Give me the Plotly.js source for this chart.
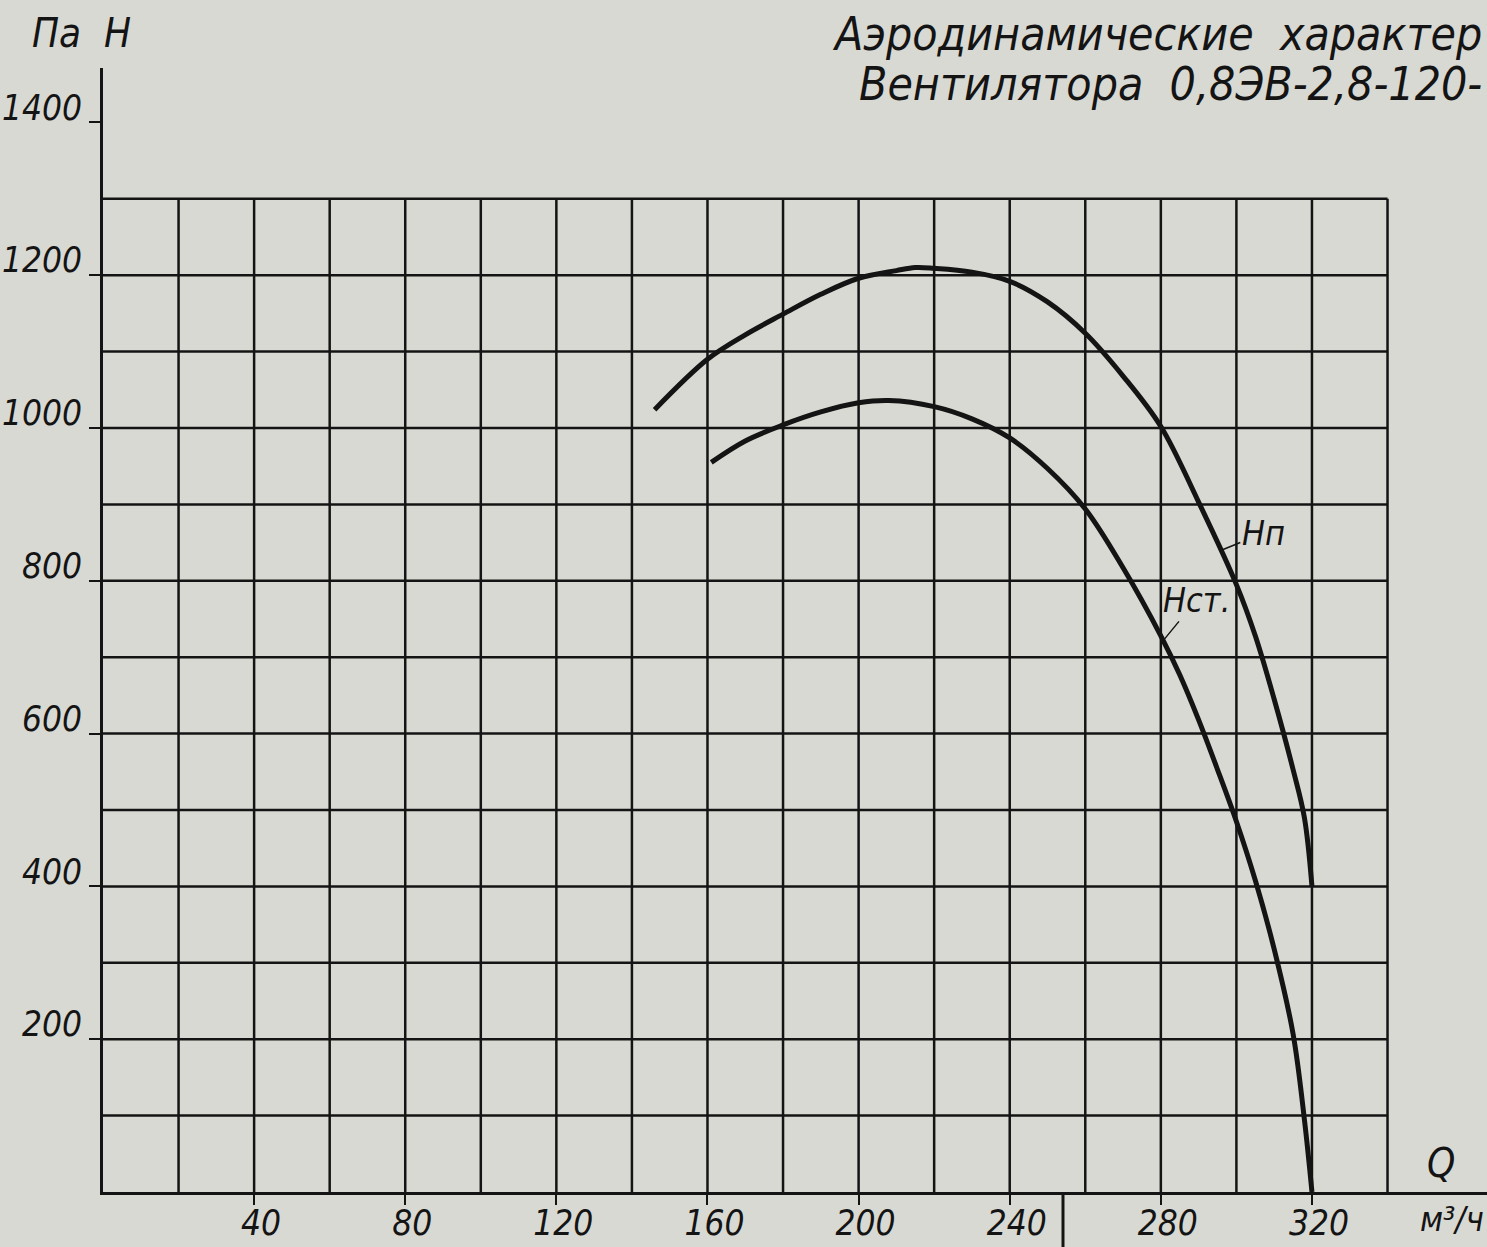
<!DOCTYPE html>
<html><head><meta charset="utf-8">
<script src="https://cdn.plot.ly/plotly-3.0.1.min.js"></script>
<style>html,body{margin:0;padding:0;background:#d9d9d3;} #chart{width:1487px;height:1247px;}</style>
</head><body><div id="chart"></div>
<script>
// Full pressure Hп (Па) vs flow Q (м³/ч)
const qFull = [146,160,170,180,190,200,210,215,220,230,240,250,260,270,280,290,300,305,310,315,318,320];
const hFull = [1024,1090,1122,1149,1175,1196,1206,1210,1209,1204,1192,1165,1124,1068,1002,903,795,728,645,553,490,400];
// Static pressure Hст
const qStatic = [161,170,180,190,200,208,220,230,240,250,260,270,280,285,290,295,300,305,310,315,318,320];
const hStatic = [955,983,1004,1021,1033,1036,1028,1012,987,947,894,817,728,677,618,553,485,408,318,207,95,0];
// Axis ticks
const xTickVals = [40,80,120,160,200,240,280,320];
const xTickText = ['40','80','120','160','200','240','280','320'];
const yTickVals = [200,400,600,800,1000,1200,1400];
const yTickText = ['200','400','600','800','1000','1200','1400'];
// Drawn grid values
const gridQ = [20,40,60,80,100,120,140,160,180,200,220,240,260,280,300,320,340];
const gridH = [100,200,300,400,500,600,700,800,900,1000,1100,1200,1300];
const gridQMax = 340, gridHMax = 1300;

const INK = '#141414';
const PAPER = '#d9d9d3';
const HAND = "'DejaVu Sans Condensed', 'DejaVu Sans', sans-serif";

const W = 1487, H = 1247, ML = 103, MR = 0, MT = 68, MB = 55;
const PW = W - ML - MR, PH = H - MT - MB;
const px = v => (v - ML) / PW;          // page pixel -> paper x
const py = v => (H - MB - v) / PH;      // page pixel -> paper y

const shapes = [];
gridQ.forEach(q => shapes.push({type:'line', layer:'below', xref:'x', yref:'y', x0:q, x1:q, y0:0, y1:gridHMax, line:{color:INK, width:2.5}}));
gridH.forEach(h => shapes.push({type:'line', layer:'below', xref:'x', yref:'y', x0:0, x1:gridQMax, y0:h, y1:h, line:{color:INK, width:2.5}}));
// stray vertical stroke under the axis (frame of the drawing)
shapes.push({type:'line', xref:'paper', yref:'paper', x0:px(1063), x1:px(1063), y0:0, y1:py(1247), line:{color:INK, width:3}});

const traces = [
  {x:qFull, y:hFull, type:'scatter', mode:'lines', name:'Нп', line:{color:INK, width:5, shape:'spline', smoothing:1}, hoverinfo:'skip'},
  {x:qStatic, y:hStatic, type:'scatter', mode:'lines', name:'Нст', line:{color:INK, width:5, shape:'spline', smoothing:1}, hoverinfo:'skip'}
];

const annotations = [
  {xref:'paper', yref:'paper', x:px(1484), y:py(34), xanchor:'right', yanchor:'middle', showarrow:false,
   text:'Аэродинамические  характер', font:{family:HAND, size:46, color:INK, style:'italic'}},
  {xref:'paper', yref:'paper', x:px(1484), y:py(84), xanchor:'right', yanchor:'middle', showarrow:false,
   text:'Вентилятора  0,8ЭВ-2,8-120-', font:{family:HAND, size:46, color:INK, style:'italic'}},
  {xref:'paper', yref:'paper', x:px(30), y:py(33), xanchor:'left', yanchor:'middle', showarrow:false,
   text:'Па  Н', font:{family:HAND, size:40, color:INK, style:'italic'}},
  {xref:'paper', yref:'paper', x:px(1441), y:py(1163), xanchor:'center', yanchor:'middle', showarrow:false,
   text:'Q', font:{family:HAND, size:40, color:INK, style:'italic'}},
  {xref:'paper', yref:'paper', x:px(1486), y:py(1219), xanchor:'right', yanchor:'middle', showarrow:false,
   text:'м³/ч', font:{family:HAND, size:34, color:INK, style:'italic'}},
  {xref:'x', yref:'y', x:296, y:840, ax:42, ay:-17, showarrow:true, arrowhead:0, arrowwidth:1.5, arrowcolor:INK,
   text:'Нп', font:{family:HAND, size:34, color:INK, style:'italic'}},
  {xref:'x', yref:'y', x:281, y:724, ax:32, ay:-39, showarrow:true, arrowhead:0, arrowwidth:1.5, arrowcolor:INK,
   text:'Нст.', font:{family:HAND, size:34, color:INK, style:'italic'}}
];

const layout = {
  width:W, height:H,
  margin:{l:ML, r:MR, t:MT, b:MB, pad:0},
  paper_bgcolor:PAPER, plot_bgcolor:PAPER,
  showlegend:false,
  xaxis:{range:[0, PW/3.778], showgrid:false, zeroline:false, showline:true, linecolor:INK, linewidth:3,
         ticks:'outside', ticklen:10, tickwidth:2, tickcolor:INK,
         tickvals:xTickVals, ticktext:xTickText, ticklabelshift:7, ticklabelstandoff:-12, automargin:false,
         tickfont:{family:HAND, size:35, color:INK, style:'italic'}},
  yaxis:{range:[0, PH/0.764], showgrid:false, zeroline:false, showline:true, linecolor:INK, linewidth:3,
         ticks:'outside', ticklen:11, tickwidth:2, tickcolor:INK,
         tickvals:yTickVals, ticktext:yTickText, ticklabelshift:-15, automargin:false,
         tickfont:{family:HAND, size:35, color:INK, style:'italic'}},
  shapes:shapes,
  annotations:annotations
};

Plotly.newPlot('chart', traces, layout, {staticPlot:true, displayModeBar:false});
</script>
</body></html>
